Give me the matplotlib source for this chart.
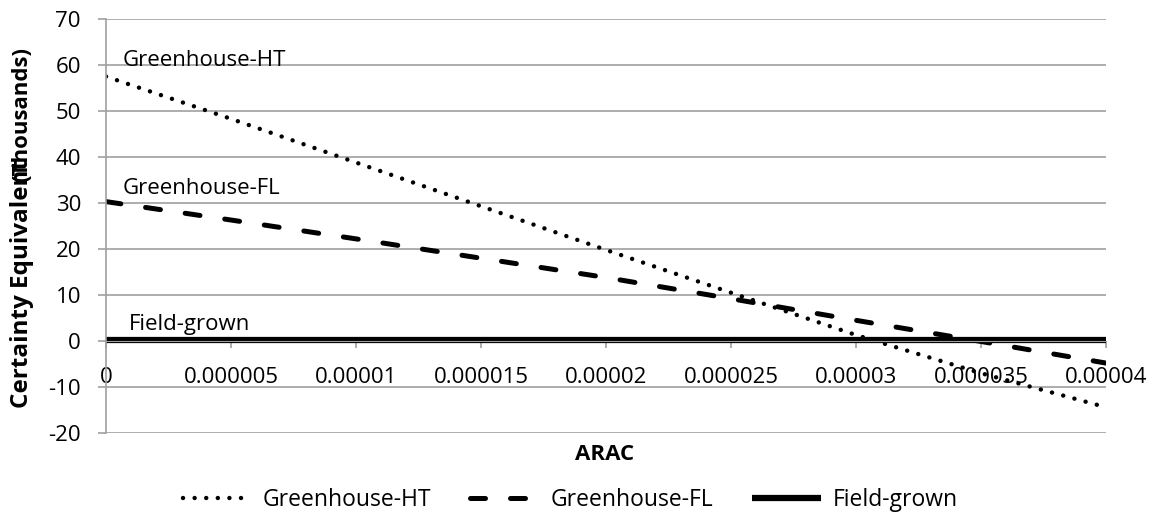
import matplotlib
matplotlib.use("Agg")
import matplotlib.pyplot as plt

# данные, CE в тысячах
arac = [0, 0.000005, 0.00001, 0.000015, 0.00002, 0.000025, 0.00003, 0.000035, 0.00004]
ce_ht = [57.5, 48.3, 38.8, 29.3, 19.8, 10.5, 1.3, -7.0, -14.4]
ce_fl = [30.3, 26.3, 22.2, 18.0, 13.8, 9.2, 4.5, -0.1, -4.8]
ce_field = [0.3, 0.3, 0.3, 0.3, 0.3, 0.3, 0.3, 0.3, 0.3]
series_names = ["Greenhouse-HT", "Greenhouse-FL", "Field-grown"]
x_tick_labels = ["0", "0.000005", "0.00001", "0.000015", "0.00002",
                 "0.000025", "0.00003", "0.000035", "0.00004"]
y_ticks = [-20, -10, 0, 10, 20, 30, 40, 50, 60, 70]

W, H = 1153, 519
plt.rcParams["font.family"] = ["Open Sans", "DejaVu Sans"]
FS = 16
GRAY = "#a0a0a0"

fig = plt.figure(figsize=(W / 100, H / 100), dpi=100)
ax = fig.add_axes([106 / W, 1 - 433 / H, 1000 / W, 414 / H])

ax.plot(arac, ce_ht, color="black", lw=3.2, linestyle=(0, (0.01, 2.6)),
        dash_capstyle="round", label=series_names[0])
ax.plot(arac, ce_fl, color="black", lw=3.6, linestyle=(0, (3.0, 5.0)),
        dash_capstyle="round", label=series_names[1])
ax.plot(arac, ce_field, color="black", lw=4.5, solid_capstyle="butt",
        label=series_names[2])

ax.set_xlim(0, 0.00004)
ax.set_ylim(-20, 70)
ax.set_xticks(arac)
ax.set_xticklabels(x_tick_labels)
ax.set_yticks(y_ticks)
ax.set_yticklabels([str(v) for v in y_ticks])

ax.set_axisbelow(True)
ax.yaxis.grid(True, color=GRAY, lw=1.2)
for s in ("top", "right"):
    ax.spines[s].set_visible(False)
ax.spines["bottom"].set_position(("data", 0))
ax.spines["bottom"].set_color(GRAY)
ax.spines["left"].set_color(GRAY)
ax.spines["left"].set_linewidth(1.2)
ax.tick_params(axis="x", direction="out", length=5, width=1.2, color=GRAY,
               pad=14, labelsize=FS)
ax.tick_params(axis="y", direction="out", length=6, width=1.2, color=GRAY,
               pad=12, labelsize=FS)

# подписи серий прямо на графике
ax.text(6.8e-7, 59.8, series_names[0], fontsize=FS, va="baseline")
ax.text(6.8e-7, 32.0, series_names[1], fontsize=FS, va="baseline")
ax.text(9.2e-7, 2.4, series_names[2], fontsize=FS, va="baseline")

# подписи осей (как в Excel: две части наезжают друг на друга)
fig.text(605 / W, 1 - 455 / H, "ARAC", fontsize=FS, fontweight="bold",
         ha="center", va="center")
fig.text(22 / W, 1 - 408 / H, "Certainty Equivalent", fontsize=17.5,
         fontweight="bold", rotation=90, ha="center", va="bottom")
fig.text(22 / W, 1 - 47 / H, "(Thousands)", fontsize=FS,
         fontweight="bold", rotation=90, ha="center", va="top")

fig.legend(loc="center", bbox_to_anchor=(570 / W, 1 - 500 / H), ncol=3,
           frameon=False, fontsize=16.5, handlelength=3.0, handletextpad=0.5,
           columnspacing=1.7, borderaxespad=0)

fig.savefig("out.png", dpi=100)
